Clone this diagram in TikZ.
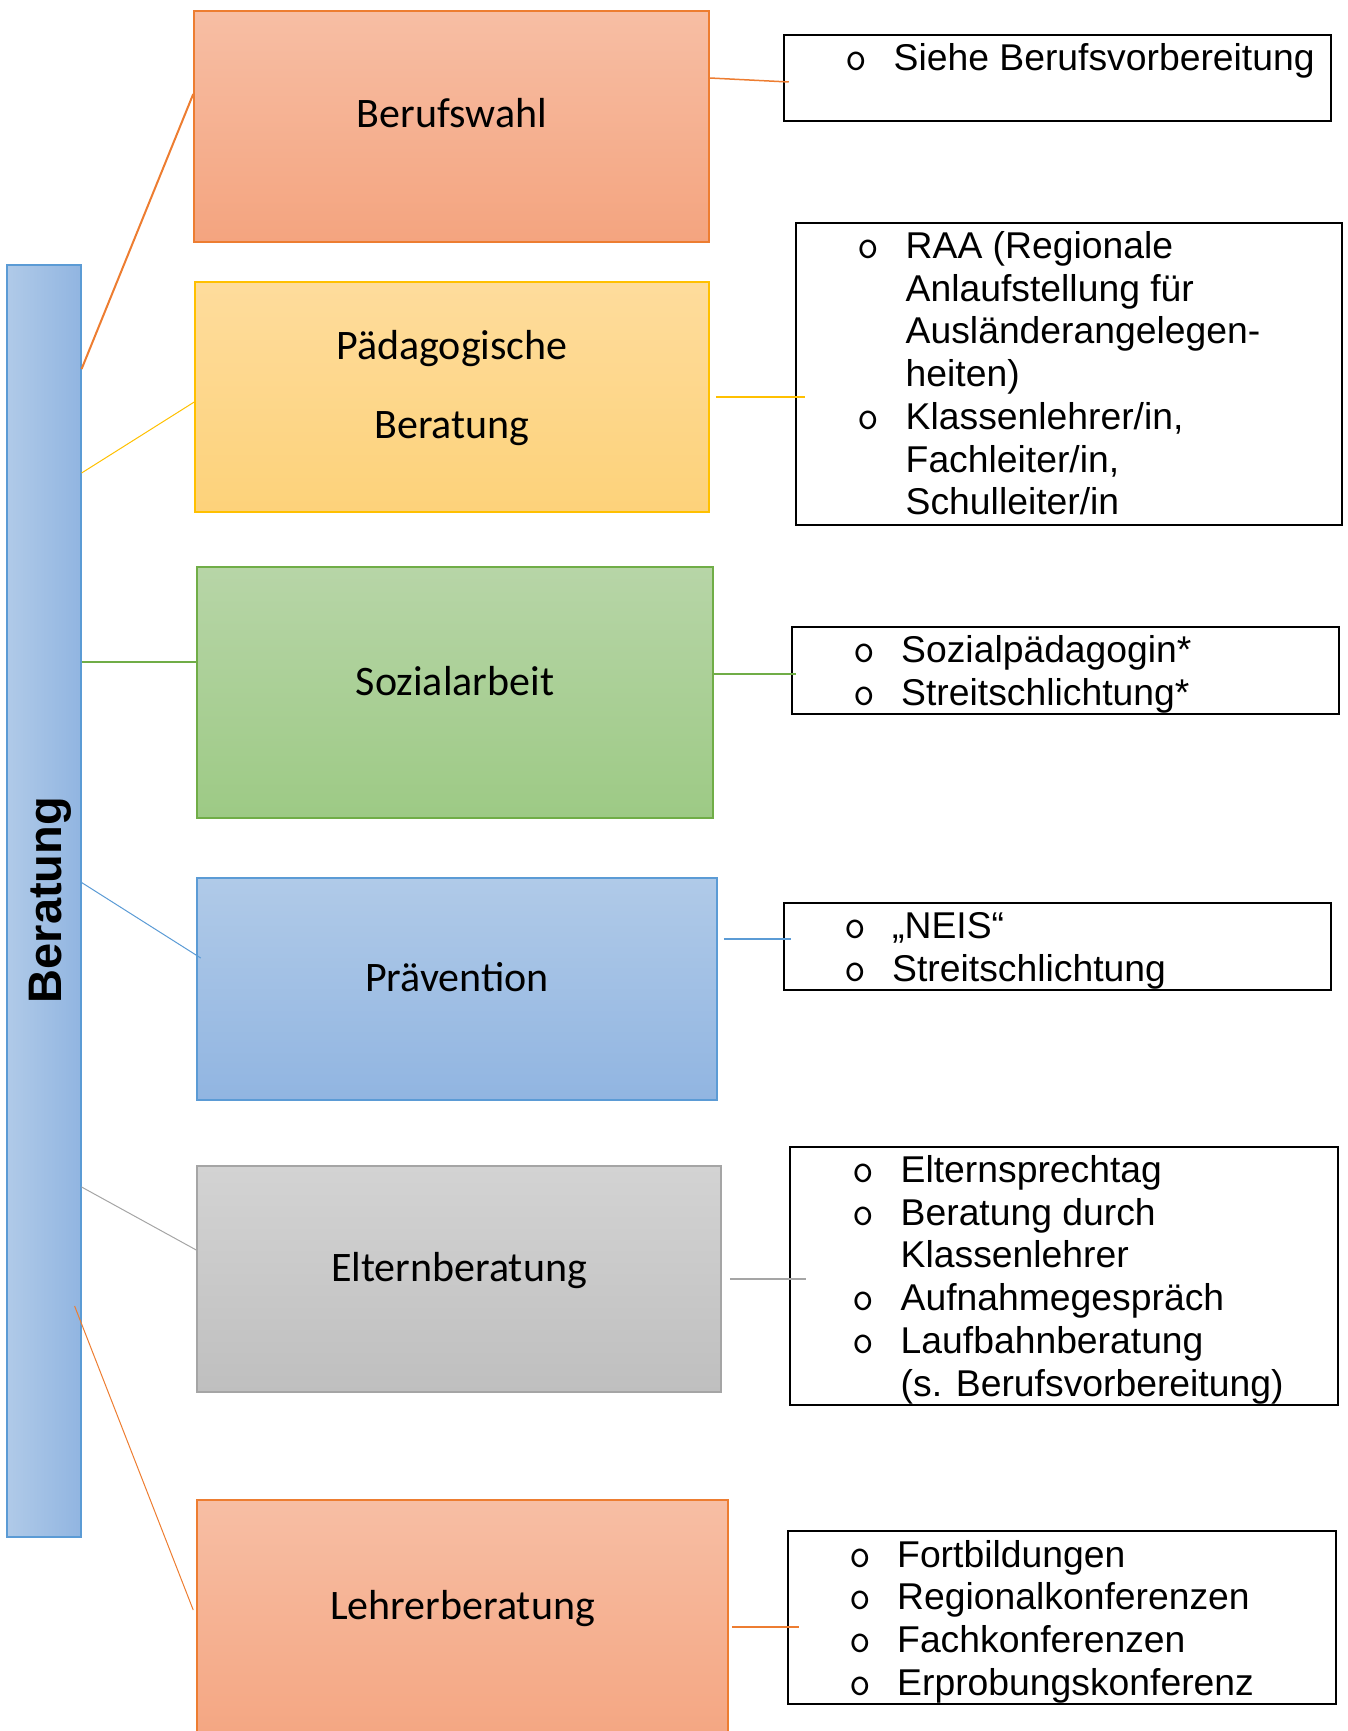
\documentclass[tikz,border=0pt]{standalone}
\usepackage{fontspec}
\usepackage{tikz}

\newfontfamily\listfont{Liberation Sans}
\newfontfamily\catfont{Carlito}
\newcommand{\bulletfont}{\ttfamily\fontsize{42}{42.7}\selectfont}

\definecolor{orangeA}{HTML}{ED7D31}
\definecolor{yellowA}{HTML}{FFC000}
\definecolor{greenA}{HTML}{70AD47}
\definecolor{blueA}{HTML}{5B9BD5}
\definecolor{grayA}{HTML}{A5A5A5}
\definecolor{salmonTop}{HTML}{F7BEA4}
\definecolor{salmonBot}{HTML}{F4A47F}
\definecolor{goldTop}{HTML}{FEDC9C}
\definecolor{goldBot}{HTML}{FDD27A}
\definecolor{leafTop}{HTML}{B7D5A7}
\definecolor{leafBot}{HTML}{9DCA85}
\definecolor{skyTop}{HTML}{B0CAE8}
\definecolor{skyBot}{HTML}{91B5E1}
\definecolor{ashTop}{HTML}{D3D3D3}
\definecolor{ashBot}{HTML}{BFBFBF}

\newcommand{\bul}{\makebox[48pt][l]{\bulletfont o}}

\begin{document}
\begin{tikzpicture}[x=1pt, y=-1pt,
	catbox/.style={rectangle, inner sep=0pt, line width=1.5pt},
	orangebox/.style={catbox, draw=orangeA, top color=salmonTop, bottom color=salmonBot},
	yellowbox/.style={catbox, draw=yellowA, top color=goldTop, bottom color=goldBot},
	greenbox/.style={catbox, draw=greenA, top color=leafTop, bottom color=leafBot},
	bluebox/.style={catbox, draw=blueA, top color=skyTop, bottom color=skyBot},
	graybox/.style={catbox, draw=grayA, top color=ashTop, bottom color=ashBot},
	barbox/.style={rectangle, inner sep=0pt, draw=blueA, line width=1.2pt, left color=skyTop, right color=skyBot},
	cattext/.style={anchor=base, inner sep=0pt, font=\catfont\fontsize{42}{50}\selectfont},
	bartext/.style={rotate=90, anchor=base, inner sep=0pt, font=\listfont\bfseries\fontsize{47}{56}\selectfont},
	listbox/.style={rectangle, draw=black, line width=2.5pt, inner sep=0pt},
	listtext/.style={anchor=base west, inner sep=0pt, font=\listfont\fontsize{37.3}{42.7}\selectfont},
	wire/.style={line width=1.5pt}]
	\useasboundingbox (0,0) rectangle (1347,1731);
	\clip (0,0) rectangle (1347,1731);
	
	% Beratung
	\node[barbox, minimum width=74pt, minimum height=1272pt] (bar) at (44,901) {};
	\node[bartext] (bar-t) at (61,900) {Beratung};
	
	% Bereiche
	\node[orangebox, minimum width=515pt, minimum height=231pt] (beruf) at (451.5,126.5) {};
	\node[yellowbox, minimum width=514pt, minimum height=230pt] (paed) at (452,397) {};
	\node[greenbox, minimum width=516pt, minimum height=251pt] (sozial) at (455,692.5) {};
	\node[bluebox, minimum width=520pt, minimum height=222pt] (praev) at (457,989) {};
	\node[graybox, minimum width=524pt, minimum height=226pt] (eltern) at (459,1279) {};
	\node[orangebox, minimum width=531pt, minimum height=260pt] (lehrer) at (462.5,1630) {};
	
	\node[cattext] (beruf-t) at (452,128) {Berufswahl};
	\node[cattext] (paed-t) at (452,359) {Pädagogische};
	\node[cattext] (paed-t2) at (452,438) {Beratung};
	\node[cattext] (sozial-t) at (455,695) {Sozialarbeit};
	\node[cattext] (praev-t) at (457,991) {Prävention};
	\node[cattext] (eltern-t) at (459,1281) {Elternberatung};
	\node[cattext] (lehrer-t) at (462.5,1619) {Lehrerberatung};
	
	% Listen
	\node[listbox, minimum width=547pt, minimum height=86pt] (l1) at (1057.5,78) {};
	\node[listbox, minimum width=546pt, minimum height=302pt] (l2) at (1069,374) {};
	\node[listbox, minimum width=547pt, minimum height=87pt] (l3) at (1065.5,670.5) {};
	\node[listbox, minimum width=547pt, minimum height=87pt] (l4) at (1057.5,946.5) {};
	\node[listbox, minimum width=548pt, minimum height=258pt] (l5) at (1064,1276) {};
	\node[listbox, minimum width=548pt, minimum height=173pt] (l6) at (1062,1617.5) {};
	
	\node[listtext] (l1-t) at (845.5,70.5) {\bul Siehe Berufsvorbereitung};
	\node[listtext] (l2-t) at (857.5,258.5) {\begin{tabular}[t]{@{}l@{}l@{}}
		\bul & RAA (Regionale\\
		& Anlaufstellung für\\
		& Ausländerangelegen-\\
		& heiten)\\
		\bul & Klassenlehrer/in,\\
		& Fachleiter/in,\\
		& Schulleiter/in
	\end{tabular}};
	\node[listtext] (l3-t) at (853,662.5) {\begin{tabular}[t]{@{}l@{}l@{}}
		\bul & Sozialpädagogin*\\
		\bul & Streitschlichtung*
	\end{tabular}};
	\node[listtext] (l4-t) at (844,938.5) {\begin{tabular}[t]{@{}l@{}l@{}}
		\bul & „NEIS“\\
		\bul & Streitschlichtung
	\end{tabular}};
	\node[listtext] (l5-t) at (852.5,1182.5) {\begin{tabular}[t]{@{}l@{}l@{}}
		\bul & Elternsprechtag\\
		\bul & Beratung durch\\
		& Klassenlehrer\\
		\bul & Aufnahmegespräch\\
		\bul & Laufbahnberatung\\
		& (s. Berufsvorbereitung)
	\end{tabular}};
	\node[listtext] (l6-t) at (849,1567) {\begin{tabular}[t]{@{}l@{}l@{}}
		\bul & Fortbildungen\\
		\bul & Regionalkonferenzen\\
		\bul & Fachkonferenzen\\
		\bul & Erprobungskonferenz
	\end{tabular}};
	
	% Verbindungen links
	\draw[wire, orangeA, line width=2pt] (bar.east |- 0,369) -- (beruf.west |- 0,94);
	\draw[wire, yellowA, line width=1pt] (bar.east |- 0,473) -- (paed.west |- 0,402);
	\draw[wire, greenA] (bar.east |- 0,662) -- (sozial.west |- 0,662);
	\draw[wire, blueA, line width=1pt] (bar.east |- 0,882.5) -- ([xshift=4.5pt]praev.west |- 0,958);
	\draw[wire, grayA, line width=1pt] (bar.east |- 0,1187) -- (eltern.west |- 0,1250);
	\draw[wire, orangeA, line width=1pt] ([xshift=-7pt]bar.east |- 0,1306) -- ([xshift=-3pt]lehrer.west |- 0,1610);
	
	% Verbindungen rechts
	\draw[wire, orangeA] (beruf.east |- 0,78) -- ([xshift=6pt]l1.west |- 0,82);
	\draw[wire, yellowA, line width=2pt] ([xshift=6pt]paed.east) -- ([xshift=10pt]l2.west |- paed.east);
	\draw[wire, greenA] (sozial.east |- 0,674) -- ([xshift=5pt]l3.west |- 0,674);
	\draw[wire, blueA] ([xshift=6pt]praev.east |- 0,939) -- ([xshift=8pt]l4.west |- 0,939);
	\draw[wire, grayA] ([xshift=8pt]eltern.east) -- ([xshift=17pt]l5.west |- eltern.east);
	\draw[wire, orangeA, line width=2pt] ([xshift=3pt]lehrer.east |- 0,1627) -- ([xshift=12pt]l6.west |- 0,1627);
\end{tikzpicture}
\end{document}
